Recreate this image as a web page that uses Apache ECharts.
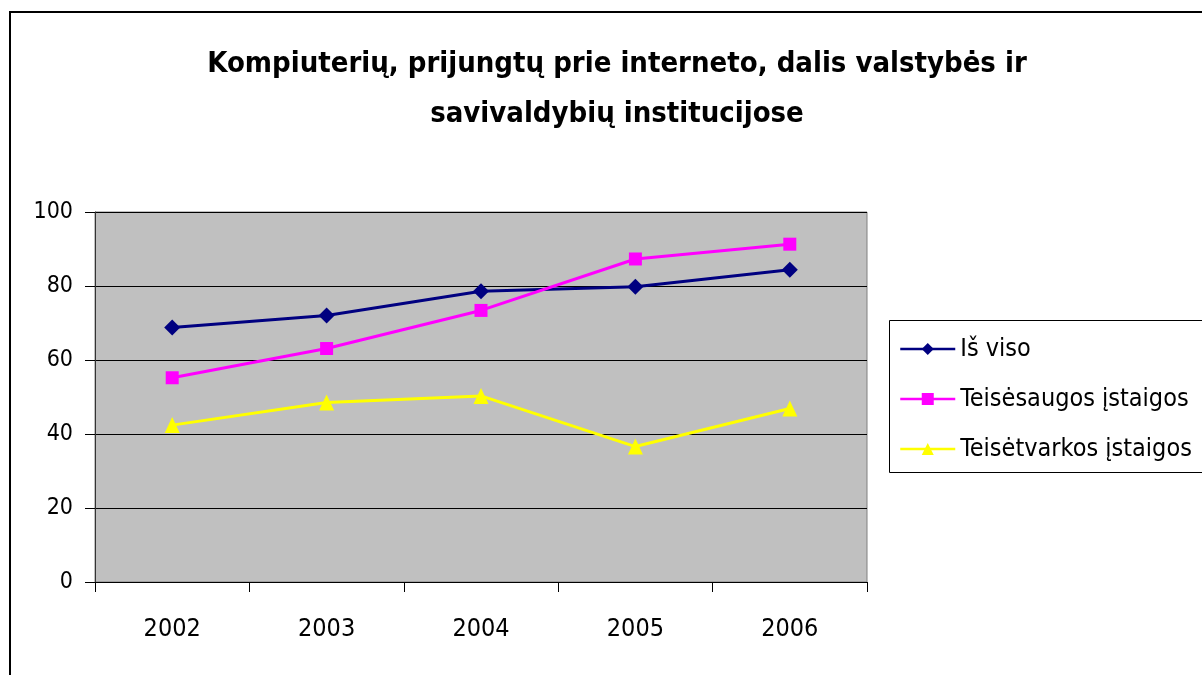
<!DOCTYPE html>
<html>
<head>
<meta charset="utf-8">
<script src="https://cdn.jsdelivr.net/npm/echarts@6/dist/echarts.min.js"></script>
<style>
  html, body { margin: 0; padding: 0; background: #fff; }
  #chart { width: 1202px; height: 675px; }
</style>
</head>
<body>
<div id="chart"></div>
<script>
  // data
  const years = ['2002', '2003', '2004', '2005', '2006'];
  const isViso = [68.8, 72.0, 78.6, 79.8, 84.4];
  const teisesaugos = [55.2, 63.1, 73.4, 87.3, 91.3];
  const teisetvarkos = [42.4, 48.5, 50.3, 36.6, 46.9];
  const seriesNames = ['Iš viso', 'Teisėsaugos įstaigos', 'Teisėtvarkos įstaigos'];

  const FONT = '"Liberation Sans Narrow", "DejaVu Sans Condensed", "Liberation Sans", Arial, sans-serif';

  const chart = echarts.init(document.getElementById('chart'));

  chart.setOption({
    animation: false,
    backgroundColor: '#fff',
    title: {
      text: 'Kompiuterių, prijungtų prie interneto, dalis valstybės ir\nsavivaldybių institucijose',
      left: 612,
      top: 34,
      textAlign: 'center',
      textStyle: {
        fontFamily: FONT,
        fontSize: 29,
        fontWeight: 'bold',
        color: '#000',
        lineHeight: 50
      }
    },
    graphic: [
      {   // outer frame (runs off the picture on the right and bottom)
        type: 'rect',
        shape: { x: 10, y: 12, width: 1200, height: 680 },
        style: { fill: 'none', stroke: '#000', lineWidth: 2 },
        z: -1
      },
      {   // legend box
        type: 'rect',
        shape: { x: 889.5, y: 320.5, width: 330, height: 152 },
        style: { fill: '#fff', stroke: '#000', lineWidth: 1 },
        z: 1
      }
    ],
    legend: {
      orient: 'vertical',
      left: 894,
      top: 329,
      itemWidth: 55,
      itemHeight: 15,
      itemGap: 20,
      z: 5,
      lineStyle: { width: 2.5 },
      textStyle: { fontFamily: FONT, fontSize: 25, color: '#000', lineHeight: 30 },
      data: seriesNames
    },
    grid: {
      left: 95,
      right: 335,
      top: 212,
      bottom: 93,
      show: true,
      backgroundColor: '#c0c0c0',
      borderColor: '#808080',
      borderWidth: 1
    },
    xAxis: {
      type: 'category',
      data: years,
      boundaryGap: true,
      axisLine: { lineStyle: { color: '#000', width: 1 } },
      axisTick: { show: true, length: 10, inside: false, lineStyle: { color: '#000' } },
      axisLabel: { margin: 35, fontFamily: FONT, fontSize: 25, color: '#000' },
      splitLine: { show: false }
    },
    yAxis: {
      type: 'value',
      min: 0,
      max: 100,
      interval: 20,
      axisLine: { show: true, lineStyle: { color: '#333', width: 1 } },
      axisTick: { show: true, length: 10, inside: false, lineStyle: { color: '#000' } },
      axisLabel: { margin: 22, fontFamily: FONT, fontSize: 23, color: '#000' },
      splitLine: { show: true, lineStyle: { color: '#000', width: 1 } }
    },
    series: [
      {
        name: seriesNames[0],
        type: 'line',
        data: isViso,
        symbol: 'diamond',
        symbolSize: 16,
        lineStyle: { color: '#000080', width: 3 },
        itemStyle: { color: '#000080' }
      },
      {
        name: seriesNames[1],
        type: 'line',
        data: teisesaugos,
        symbol: 'rect',
        symbolSize: 13,
        lineStyle: { color: '#ff00ff', width: 3 },
        itemStyle: { color: '#ff00ff' }
      },
      {
        name: seriesNames[2],
        type: 'line',
        data: teisetvarkos,
        symbol: 'triangle',
        symbolSize: [15, 16],
        lineStyle: { color: '#ffff00', width: 3 },
        itemStyle: { color: '#ffff00' }
      }
    ]
  });
</script>
</body>
</html>
